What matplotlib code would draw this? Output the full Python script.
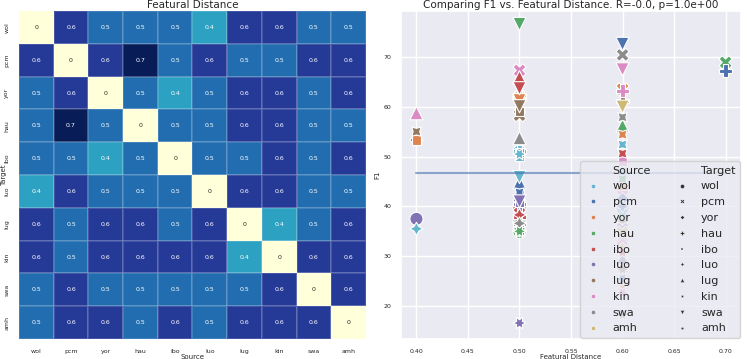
import numpy as np
import pandas as pd
import matplotlib
matplotlib.use("Agg")
import matplotlib.pyplot as plt
from matplotlib.lines import Line2D
import seaborn as sns

langs = ["wol", "pcm", "yor", "hau", "ibo", "luo", "lug", "kin", "swa", "amh"]

# rows = target, cols = source
distance = [
    [0.0, 0.6, 0.5, 0.5, 0.5, 0.4, 0.6, 0.6, 0.5, 0.5],
    [0.6, 0.0, 0.6, 0.7, 0.5, 0.6, 0.5, 0.5, 0.6, 0.6],
    [0.5, 0.6, 0.0, 0.5, 0.4, 0.5, 0.6, 0.6, 0.5, 0.6],
    [0.5, 0.7, 0.5, 0.0, 0.5, 0.5, 0.6, 0.6, 0.5, 0.5],
    [0.5, 0.5, 0.4, 0.5, 0.0, 0.5, 0.5, 0.6, 0.5, 0.6],
    [0.4, 0.6, 0.5, 0.5, 0.5, 0.0, 0.6, 0.6, 0.5, 0.5],
    [0.6, 0.5, 0.6, 0.6, 0.5, 0.6, 0.0, 0.4, 0.5, 0.6],
    [0.6, 0.5, 0.6, 0.6, 0.6, 0.6, 0.4, 0.0, 0.6, 0.6],
    [0.5, 0.6, 0.5, 0.5, 0.5, 0.5, 0.5, 0.6, 0.0, 0.6],
    [0.5, 0.6, 0.6, 0.5, 0.6, 0.5, 0.6, 0.6, 0.6, 0.0],
]

nan = np.nan
# rows = target, cols = source
f1 = [
    [nan, 39.5, 62.1, 34.9, 39.8, 37.5, 37.8, 43.4, 37.0, 61.9],
    [38.5, nan, 63.5, 68.9, 38.6, 35.5, 58.3, 67.3, 70.4, 34.8],
    [51.5, 41.5, nan, 35.2, 53.3, 41.2, 33.0, 32.5, 36.8, 31.5],
    [51.0, 67.2, 61.8, nan, 38.0, 40.5, 61.2, 63.2, 36.5, 62.3],
    [50.0, 43.5, 53.3, 35.3, nan, 40.8, 59.0, 49.1, 50.8, 30.5],
    [35.5, 40.0, 61.6, 35.5, 38.3, nan, 28.0, 27.0, 36.6, 61.7],
    [46.8, 44.8, 44.5, 56.2, 65.9, 29.5, nan, 58.7, 53.7, 26.0],
    [52.4, 42.8, 54.4, 45.5, 50.6, 30.8, 55.0, nan, 57.9, 24.5],
    [45.9, 72.6, 61.3, 76.6, 63.7, 41.0, 60.1, 67.5, nan, 60.0],
    [50.5, 25.5, 23.5, 35.0, 30.8, 16.6, 27.4, 22.7, 18.3, nan],
]

fit_x = [0.4, 0.7]
fit_y = [46.7, 46.7]

colors = ["#64B5CD", "#4C72B0", "#DD8452", "#55A868", "#C44E52",
          "#8172B3", "#937860", "#DA8BC3", "#8C8C8C", "#CCB974"]
markers = ["o", "X", (4, 0, 0), "P", (4, 0, 45), (4, 1, 0), "^",
           (4, 1, 45), "v", (6, 1, 30)]

sns.set_theme(style="darkgrid")
plt.rcParams["font.family"] = ["DejaVu Sans"]

fig = plt.figure(figsize=(7.47, 3.59), dpi=100)
ax1 = fig.add_axes([0.0254, 0.0557, 0.4645, 0.9136])
ax2 = fig.add_axes([0.5368, 0.0557, 0.4552, 0.9136])

dist_df = pd.DataFrame(distance, index=langs, columns=langs)
sns.heatmap(dist_df, ax=ax1, cmap="YlGnBu", vmin=0, vmax=0.7, cbar=False,
            annot=True, fmt=".1g", annot_kws={"size": 4.5},
            linewidths=0.3, linecolor=(1, 1, 1, 0.15))
ax1.set_title("Featural Distance", fontsize=7.5, pad=2)
ax1.set_xlabel("Source", fontsize=5, labelpad=0.5)
ax1.set_ylabel("Target", fontsize=5)
ax1.yaxis.set_label_coords(-0.034, 0.5)
ax1.tick_params(axis="x", labelsize=4.5, rotation=0, pad=1)
ax1.tick_params(axis="y", labelsize=4.5, rotation=90, pad=1)
for lab in ax1.get_yticklabels():
    lab.set_va("center")

rows = []
for ti, t in enumerate(langs):
    for si, s in enumerate(langs):
        if ti == si:
            continue
        rows.append({"target": t, "source": s,
                     "dist": distance[ti][si], "f1": f1[ti][si]})
df = pd.DataFrame(rows)

sns.scatterplot(data=df, x="dist", y="f1", hue="source", style="target",
                hue_order=langs, style_order=langs,
                palette=dict(zip(langs, colors)),
                markers=dict(zip(langs, markers)),
                s=90, edgecolor="white", linewidth=0.8, legend=False, ax=ax2)
ax2.plot(fit_x, fit_y, color="#4C72B0", alpha=0.6, lw=1.5)
ax2.set_xlim(0.385, 0.715)
ax2.set_ylim(13.4, 79.2)
ax2.set_xticks([0.40, 0.45, 0.50, 0.55, 0.60, 0.65, 0.70])
ax2.set_yticks([20, 30, 40, 50, 60, 70])
ax2.tick_params(labelsize=4.5, pad=1)
ax2.set_xlabel("Featural Distance", fontsize=5, labelpad=0.5)
ax2.set_ylabel("F1", fontsize=5, labelpad=2)
ax2.set_title("Comparing F1 vs. Featural Distance. R=-0.0, p=1.0e+00",
              fontsize=7.5, pad=2)

blank = Line2D([], [], linestyle="none", marker="")
handles = [blank] + [Line2D([], [], linestyle="none", marker="o", markersize=3,
                            markerfacecolor=c, markeredgecolor="white",
                            markeredgewidth=0.3) for c in colors]
labels = ["Source"] + langs
handles += [blank] + [Line2D([], [], linestyle="none", marker=m, markersize=3,
                             markerfacecolor="#333333", markeredgecolor="white",
                             markeredgewidth=0.3) for m in markers]
labels += ["Target"] + langs
ax2.legend(handles, labels, ncol=2, loc="lower right", fontsize=8,
           labelspacing=0.52, columnspacing=2.0, handlelength=1.5,
           handletextpad=1.0, borderaxespad=0.1, framealpha=0.8)

fig.savefig("out.png", dpi=100)
